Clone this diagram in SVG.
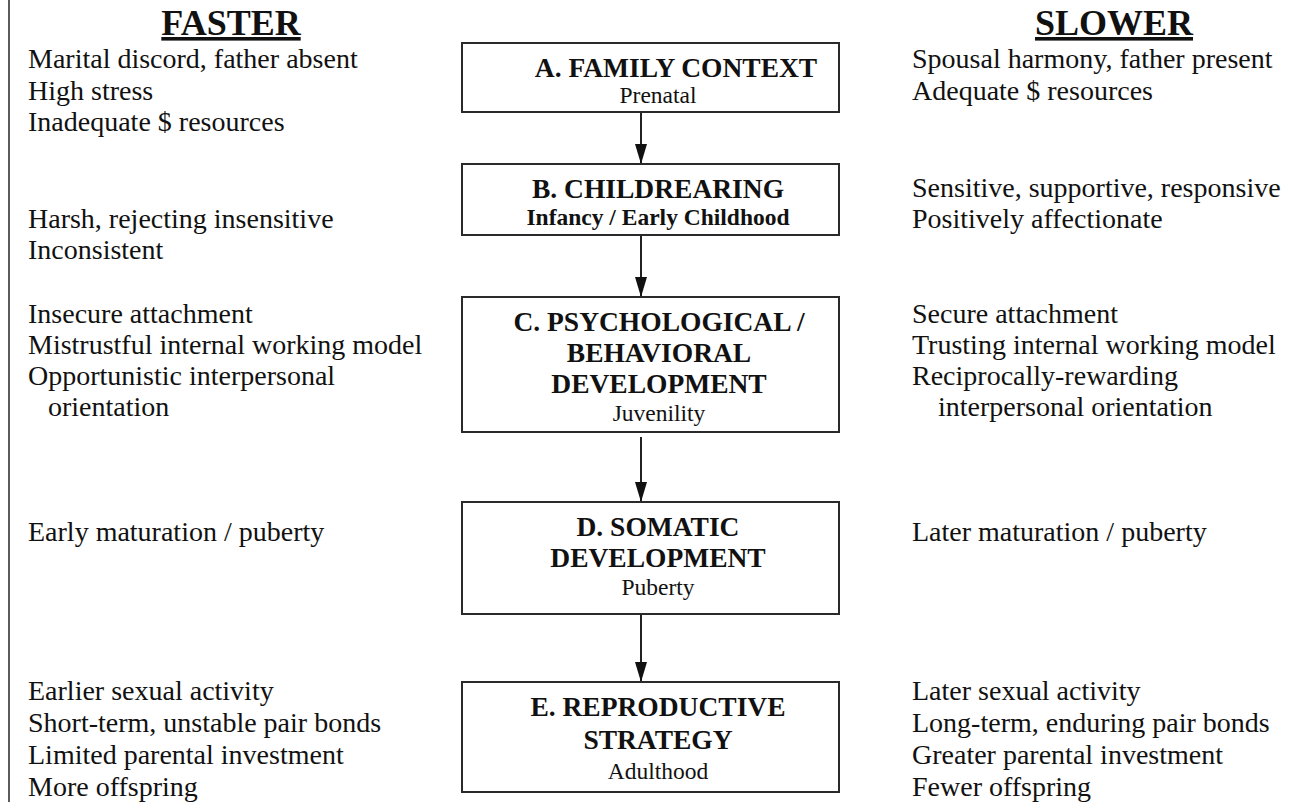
<svg xmlns="http://www.w3.org/2000/svg" width="1290" height="802" viewBox="0 0 1290 802">
<style>
.bg{fill:#fff}
.box{fill:#fff;stroke:#2a2a2a;stroke-width:2}
.ttl{font-family:"Liberation Serif","Times New Roman",serif;font-weight:bold;font-size:27.5px;fill:#111;text-anchor:middle}
.sub{font-family:"Liberation Serif","Times New Roman",serif;font-size:23.5px;fill:#111;text-anchor:middle}
.subb{font-family:"Liberation Serif","Times New Roman",serif;font-weight:bold;font-size:23.5px;fill:#111;text-anchor:middle}
.side{font-family:"Liberation Serif","Times New Roman",serif;font-size:28px;fill:#111}
.head{font-family:"Liberation Serif","Times New Roman",serif;font-weight:bold;font-size:36px;fill:#111;text-anchor:middle;text-decoration:underline}
.conn{stroke:#222;stroke-width:2;fill:none}
</style>
<defs>
<marker id="arr" markerWidth="20" markerHeight="12" refX="20" refY="6" viewBox="0 0 20 12" markerUnits="userSpaceOnUse" orient="auto">
<path d="M0,0 L20,6 L0,12 Z" fill="#111"/>
</marker>
</defs>
<rect class="bg" x="0" y="0" width="1290" height="802"/>
<line x1="9" y1="0" x2="9" y2="802" stroke="#333" stroke-width="1.6"/>

<g id="header-faster">
<text class="head" x="231" y="35">FASTER</text>
</g>
<g id="header-slower">
<text class="head" x="1114" y="35">SLOWER</text>
</g>

<g id="connectors">
<line class="conn" x1="641" y1="112" x2="641" y2="164" marker-end="url(#arr)"/>
<line class="conn" x1="641" y1="235" x2="641" y2="297" marker-end="url(#arr)"/>
<line class="conn" x1="641" y1="437" x2="641" y2="502" marker-end="url(#arr)"/>
<line class="conn" x1="641" y1="614" x2="641" y2="682" marker-end="url(#arr)"/>
</g>

<g id="node-a">
<rect class="box" x="462" y="43" width="377" height="69"/>
<text class="ttl" x="676" y="77">A. FAMILY CONTEXT</text>
<text class="sub" x="658" y="103">Prenatal</text>
</g>
<g id="node-b">
<rect class="box" x="462" y="164" width="377" height="71"/>
<text class="ttl" x="658" y="198">B. CHILDREARING</text>
<text class="subb" x="658" y="225">Infancy / Early Childhood</text>
</g>
<g id="node-c">
<rect class="box" x="462" y="297" width="377" height="135"/>
<text class="ttl" x="659" y="331">C. PSYCHOLOGICAL /</text>
<text class="ttl" x="659" y="362">BEHAVIORAL</text>
<text class="ttl" x="659" y="393">DEVELOPMENT</text>
<text class="sub" x="659" y="421">Juvenility</text>
</g>
<g id="node-d">
<rect class="box" x="462" y="502" width="377" height="112"/>
<text class="ttl" x="658" y="536">D. SOMATIC</text>
<text class="ttl" x="658" y="567">DEVELOPMENT</text>
<text class="sub" x="658" y="595">Puberty</text>
</g>
<g id="node-e">
<rect class="box" x="462" y="682" width="377" height="110"/>
<text class="ttl" x="658" y="716">E. REPRODUCTIVE</text>
<text class="ttl" x="658" y="749">STRATEGY</text>
<text class="sub" x="658" y="779">Adulthood</text>
</g>

<g id="faster-text">
<text class="side" x="28" y="68">Marital discord, father absent</text>
<text class="side" x="28" y="100">High stress</text>
<text class="side" x="28" y="131">Inadequate $ resources</text>
<text class="side" x="28" y="228">Harsh, rejecting insensitive</text>
<text class="side" x="28" y="259">Inconsistent</text>
<text class="side" x="28" y="323">Insecure attachment</text>
<text class="side" x="28" y="354">Mistrustful internal working model</text>
<text class="side" x="28" y="385">Opportunistic interpersonal</text>
<text class="side" x="48" y="416">orientation</text>
<text class="side" x="28" y="541">Early maturation / puberty</text>
<text class="side" x="28" y="700">Earlier sexual activity</text>
<text class="side" x="28" y="732">Short-term, unstable pair bonds</text>
<text class="side" x="28" y="764">Limited parental investment</text>
<text class="side" x="28" y="796">More offspring</text>
</g>

<g id="slower-text">
<text class="side" x="912" y="68">Spousal harmony, father present</text>
<text class="side" x="912" y="100">Adequate $ resources</text>
<text class="side" x="912" y="197">Sensitive, supportive, responsive</text>
<text class="side" x="912" y="228">Positively affectionate</text>
<text class="side" x="912" y="323">Secure attachment</text>
<text class="side" x="912" y="354">Trusting internal working model</text>
<text class="side" x="912" y="385">Reciprocally-rewarding</text>
<text class="side" x="938" y="416">interpersonal orientation</text>
<text class="side" x="912" y="541">Later maturation / puberty</text>
<text class="side" x="912" y="700">Later sexual activity</text>
<text class="side" x="912" y="732">Long-term, enduring pair bonds</text>
<text class="side" x="912" y="764">Greater parental investment</text>
<text class="side" x="912" y="796">Fewer offspring</text>
</g>
</svg>
